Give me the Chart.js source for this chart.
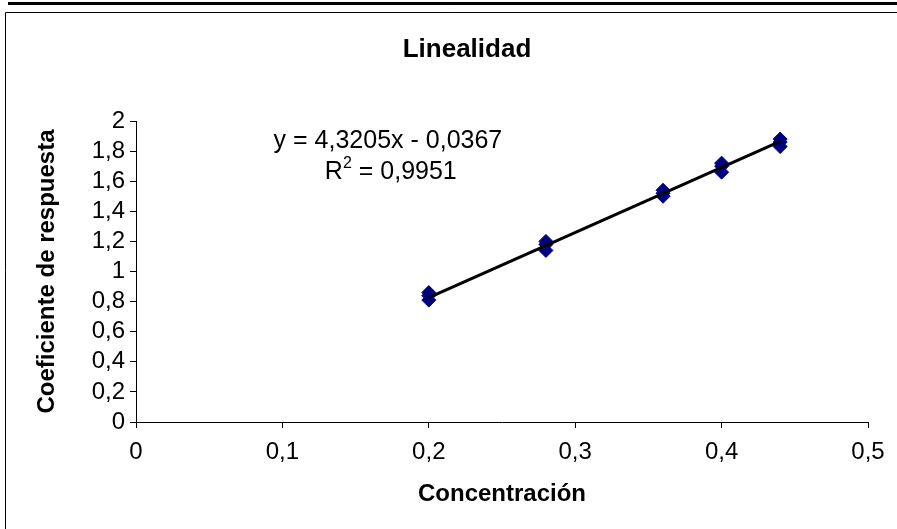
<!DOCTYPE html>
<html>
<head>
<meta charset="utf-8">
<script src="https://cdn.jsdelivr.net/npm/chart.js@4.4.1/dist/chart.umd.min.js"></script>
<style>
  html, body { margin: 0; padding: 0; background: #fff; }
  #wrap { width: 897px; height: 529px; position: relative; }
</style>
</head>
<body>
<div id="wrap"><canvas id="chart" width="897" height="529"></canvas></div>
<script>
// Measured points (three replicates per concentration)
const concentraciones = [0.2, 0.2, 0.2, 0.28, 0.28, 0.28, 0.36, 0.36, 0.36, 0.4, 0.4, 0.4, 0.44, 0.44, 0.44];
const coeficientes = [0.81, 0.84, 0.86, 1.14, 1.18, 1.20, 1.50, 1.52, 1.54, 1.66, 1.70, 1.72, 1.83, 1.86, 1.88];

// Trend line end points
const trendX = [0.2, 0.44];
const trendY = [0.827, 1.864];

const xTicks = [0, 0.1, 0.2, 0.3, 0.4, 0.5];
const yTicks = [0, 0.2, 0.4, 0.6, 0.8, 1, 1.2, 1.4, 1.6, 1.8, 2];

const titulo = 'Linealidad';
const ecuacion = 'y = 4,3205x - 0,0367';
const r2Texto = '0,9951';

const FONT = '"Liberation Sans", Arial, sans-serif';
const fmt = v => String(Math.round(v * 10) / 10).replace('.', ',');

const ctx = document.getElementById('chart').getContext('2d');

// Frame around the chart, line above it and the title (centred on the whole frame)
const framePlugin = {
    id: 'frame',
    beforeDraw(chart) {
        const c = chart.ctx;
        c.save();
        c.fillStyle = '#fff';
        c.fillRect(0, 0, chart.width, chart.height);
        c.strokeStyle = '#000';
        c.lineWidth = 3;
        c.beginPath();
        c.moveTo(8, 3.5);
        c.lineTo(chart.width, 3.5);
        c.stroke();
        c.lineWidth = 1;
        c.beginPath();
        c.moveTo(5.5, chart.height);
        c.lineTo(5.5, 12.5);
        c.lineTo(chart.width, 12.5);
        c.stroke();
        c.fillStyle = '#000';
        c.font = 'bold 26px ' + FONT;
        c.textAlign = 'center';
        c.textBaseline = 'middle';
        c.fillText(titulo, 467, 50);
        c.restore();
    }
};

// Equation and R² label
const equationPlugin = {
    id: 'equation',
    afterDraw(chart) {
        const c = chart.ctx;
        const x = chart.scales.x, y = chart.scales.y;
        c.save();
        c.fillStyle = '#000';
        c.textBaseline = 'middle';
        c.textAlign = 'left';
        c.font = '25px ' + FONT;
        c.fillText(ecuacion, x.getPixelForValue(0.094), y.getPixelForValue(1.867));
        // R² line
        let sx = x.getPixelForValue(0.129);
        const py = y.getPixelForValue(1.661);
        c.fillText('R', sx, py);
        sx += c.measureText('R').width;
        c.font = '16px ' + FONT;
        c.fillText('2', sx, py - 8);
        sx += c.measureText('2').width;
        c.font = '25px ' + FONT;
        c.fillText(' = ' + r2Texto, sx, py);
        c.restore();
    }
};

const chart = new Chart(ctx, {
    type: 'scatter',
    data: {
        datasets: [{
            label: 'Coeficiente',
            data: concentraciones.map((v, i) => ({ x: v, y: coeficientes[i] })),
            pointStyle: 'rectRot',
            radius: 7,
            backgroundColor: '#000080',
            borderColor: '#000080',
            borderWidth: 1,
            order: 2
        }, {
            label: 'Lineal',
            type: 'line',
            data: trendX.map((v, i) => ({ x: v, y: trendY[i] })),
            borderColor: '#000',
            borderWidth: 3,
            pointRadius: 0,
            fill: false,
            order: 1
        }]
    },
    options: {
        responsive: false,
        animation: false,
        layout: { padding: { left: 0, right: 29, top: 121, bottom: 0 } },
        plugins: {
            legend: { display: false },
            tooltip: { enabled: false },
            title: { display: false }
        },
        scales: {
            x: {
                type: 'linear',
                min: 0,
                max: 0.5,
                afterBuildTicks: s => { s.ticks = xTicks.map(v => ({ value: v })); },
                afterFit: s => { s.height = 107; },
                ticks: {
                    color: '#000',
                    font: { family: FONT, size: 24 },
                    padding: 10,
                    maxRotation: 0,
                    autoSkip: false,
                    callback: v => fmt(v)
                },
                grid: { drawOnChartArea: false, drawTicks: true, tickLength: 6, color: '#000' },
                border: { color: '#000', width: 1 },
                title: {
                    display: true,
                    text: 'Concentración',
                    color: '#000',
                    font: { family: FONT, size: 24, weight: 'bold' },
                    padding: { top: 0, bottom: 20.6 }
                }
            },
            y: {
                type: 'linear',
                min: 0,
                max: 2,
                afterBuildTicks: s => { s.ticks = yTicks.map(v => ({ value: v })); },
                afterFit: s => { s.width = 136; },
                ticks: {
                    color: '#000',
                    font: { family: FONT, size: 24 },
                    padding: 5,
                    autoSkip: false,
                    callback: v => fmt(v)
                },
                grid: { drawOnChartArea: false, drawTicks: true, tickLength: 6, color: '#000' },
                border: { color: '#000', width: 1 },
                title: {
                    display: true,
                    text: 'Coeficiente de respuesta',
                    color: '#000',
                    font: { family: FONT, size: 24, weight: 'bold' },
                    padding: { top: 32.6, bottom: 0 }
                }
            }
        }
    },
    plugins: [framePlugin, equationPlugin]
});
</script>
</body>
</html>
